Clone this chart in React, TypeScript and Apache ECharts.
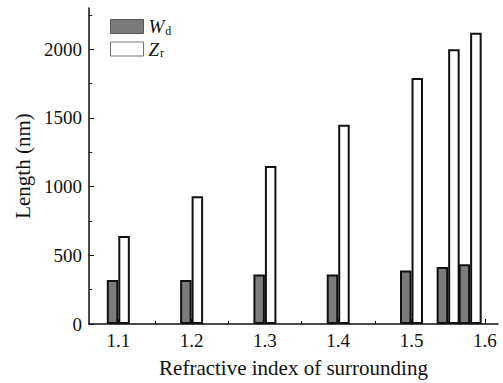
import React, { useEffect, useRef } from "react";
import * as echarts from "echarts";

const xValues = [1.1, 1.2, 1.3, 1.4, 1.5, 1.55, 1.58];
const wdValues = [320, 320, 360, 360, 390, 415, 435];
const zrValues = [640, 930, 1150, 1450, 1790, 2000, 2120];
const xTickLabels = [1.1, 1.2, 1.3, 1.4, 1.5, 1.6];
const xMinorTicks = [1.15, 1.25, 1.35, 1.45, 1.55];
const yTickLabels = [0, 500, 1000, 1500, 2000];
const yMinorTicks = [250, 750, 1250, 1750, 2250];

const FONT = "Liberation Serif";

export default function App() {
  const ref = useRef<HTMLDivElement>(null);
  useEffect(() => {
    if (!ref.current) return;
    const chart = echarts.init(ref.current, undefined, { renderer: "svg" });
    const axisColor = "#111";
    chart.setOption({
      animation: false,
      backgroundColor: "#fff",
      grid: { left: 89, top: 8, right: 5, bottom: 56 },
      legend: {
        left: 105,
        top: 12,
        orient: "vertical",
        icon: "rect",
        itemWidth: 33,
        itemHeight: 14,
        itemGap: 3,
        data: [
          { name: "Wd", itemStyle: { color: "#7b7b7b", borderColor: "#555", borderWidth: 1 } },
          { name: "Zr", itemStyle: { color: "#fff", borderColor: "#777", borderWidth: 1 } },
        ],
        formatter: (n: string) => (n === "Wd" ? "{i|W}{s|d}" : "{i|Z}{s|r}"),
        textStyle: {
          rich: {
            i: { fontFamily: FONT, fontStyle: "italic", fontSize: 19, color: "#111" },
            s: { fontFamily: FONT, fontSize: 12, color: "#111", verticalAlign: "bottom", padding: [8, 0, 0, 1] },
          },
        },
      },
      xAxis: [
        {
          type: "value",
          min: 1.06,
          max: 1.618,
          name: "Refractive index of surrounding",
          nameLocation: "middle",
          nameGap: 33,
          nameTextStyle: { fontFamily: FONT, fontSize: 21, color: "#111" },
          axisLine: { lineStyle: { color: axisColor, width: 1.5 } },
          axisTick: { inside: true, length: 5, customValues: xTickLabels, lineStyle: { color: axisColor } },
          axisLabel: {
            customValues: xTickLabels,
            formatter: (v: number) => v.toFixed(1),
            fontFamily: FONT,
            fontSize: 19,
            color: "#111",
            margin: 7,
          },
          splitLine: { show: false },
        },
        {
          type: "value",
          min: 1.06,
          max: 1.618,
          position: "bottom",
          axisLine: { show: false },
          axisTick: { inside: true, length: 3, customValues: xMinorTicks, lineStyle: { color: axisColor } },
          axisLabel: { show: false },
          splitLine: { show: false },
        },
      ],
      yAxis: [
        {
          type: "value",
          min: 0,
          max: 2300,
          name: "Length (nm)",
          nameLocation: "middle",
          nameGap: 56,
          nameTextStyle: { fontFamily: FONT, fontSize: 21, color: "#111" },
          axisLine: { show: true, lineStyle: { color: axisColor, width: 1.5 } },
          axisTick: { show: true, inside: true, length: 5, customValues: yTickLabels, lineStyle: { color: axisColor } },
          axisLabel: {
            customValues: yTickLabels,
            formatter: (v: number) => String(Math.round(v)),
            fontFamily: FONT,
            fontSize: 19,
            color: "#111",
            margin: 7,
          },
          splitLine: { show: false },
        },
        {
          type: "value",
          min: 0,
          max: 2300,
          position: "left",
          axisLine: { show: false },
          axisTick: { show: true, inside: true, length: 3, customValues: yMinorTicks, lineStyle: { color: axisColor } },
          axisLabel: { show: false },
          splitLine: { show: false },
        },
      ],
      series: [
        {
          name: "Wd",
          type: "bar",
          xAxisIndex: 0,
          yAxisIndex: 0,
          barWidth: 11.5,
          barGap: "0%",
          data: xValues.map((x, i) => [x, wdValues[i]]),
          itemStyle: { color: "#7b7b7b", borderColor: "#111", borderWidth: 2 },
        },
        {
          name: "Zr",
          type: "bar",
          xAxisIndex: 0,
          yAxisIndex: 0,
          barWidth: 11.5,
          barGap: "0%",
          data: xValues.map((x, i) => [x, zrValues[i]]),
          itemStyle: { color: "#fff", borderColor: "#111", borderWidth: 2 },
        },
      ],
    });
    return () => chart.dispose();
  }, []);
  return <div ref={ref} style={{ width: 503, height: 383, position: "absolute", left: 0, top: 0 }} />;
}
